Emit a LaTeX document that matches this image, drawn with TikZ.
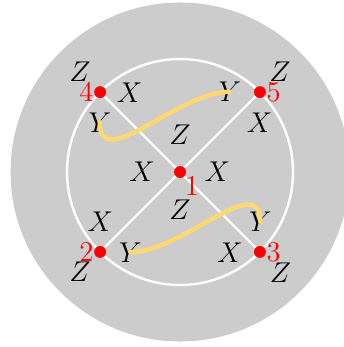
\documentclass[tikz,border=0pt]{standalone}
\usepackage{xcolor}
\usepackage{tikz}
\usetikzlibrary{positioning}
\definecolor{strandyellow}{RGB}{255,217,112}
\pgfdeclarelayer{background}
\pgfsetlayers{background,main}

\begin{document}
\begin{tikzpicture}[
  font=\Large,
  vertex/.style={circle, fill=red, inner sep=0pt, minimum size=2.1mm},
  num/.style={text=red, inner sep=0pt},
  wire/.style={white, line width=1.2pt},
  strand/.style={strandyellow, line width=2.2pt, line cap=round}
]
\useasboundingbox (-3.186,-3.097) rectangle (2.885,3.044);
\node (v1) [vertex] at (0,0) {};
\node (v4) [vertex] at (135:2) {};
\node (v5) [vertex] at (45:2) {};
\node (v2) [vertex] at (225:2) {};
\node (v3) [vertex] at (-45:2) {};
\node (n1) [num, below right=0pt and 0pt of v1] {1};
\node (n4) [num, left=0pt of v4] {4};
\node (n5) [num, right=0pt of v5] {5};
\node (n2) [num, left=0pt of v2] {2};
\node (n3) [num, right=0pt of v3] {3};
\begin{pgfonlayer}{background}
\fill[gray!40] (v1) circle (3);
\draw[wire] (v1) circle (2);
\draw[wire] (v4.center) -- (v3.center);
\draw[wire] (v2.center) -- (v5.center);
\end{pgfonlayer}
% labels round the middle vertex
\node (z1a) at (0,0.66) {$Z$};
\node (z1b) at (0,-0.66) {$Z$};
\node (x1a) at (-0.67,0) {$X$};
\node (x1b) at (0.66,0) {$X$};
% labels round the outer vertices
\node (z4) at (-1.77,1.77) {$Z$};
\node (x4) at (-0.89,1.41) {$X$};
\node (y4) at (-1.42,0.88) {$Y$};
\node (z5) at (1.77,1.77) {$Z$};
\node (y5) at (0.88,1.42) {$Y$};
\node (x5) at (1.41,0.88) {$X$};
\node (z2) at (-1.77,-1.77) {$Z$};
\node (x2) at (-1.41,-0.88) {$X$};
\node (y2) at (-0.88,-1.42) {$Y$};
\node (z3) at (1.78,-1.78) {$Z$};
\node (y3) at (1.42,-0.88) {$Y$};
\node (x3) at (0.88,-1.42) {$X$};
\draw[strand] (y4.center) to[out=-90, in=180] (y5.center);
\draw[strand] (y3.center) to[out=90, in=0] (y2.center);
\end{tikzpicture}
\end{document}
